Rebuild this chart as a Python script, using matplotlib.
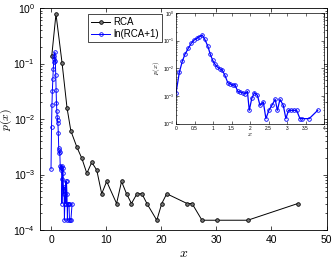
import matplotlib
matplotlib.use("Agg")
import matplotlib.pyplot as plt
import numpy as np

# RCA distribution (black)
rca_x = [0.13, 0.9, 2.0, 2.9, 3.6, 4.7, 5.6, 6.5, 7.4, 8.3, 9.2, 10.1, 11.9, 12.8,
         13.7, 14.6, 15.6, 16.5, 17.4, 19.2, 20.1, 21.0, 24.7, 25.6, 27.4, 30.1,
         35.7, 44.8]
rca_p = [0.136, 0.78, 0.103, 0.016, 6.1e-3, 3.1e-3, 1.95e-3, 1.05e-3, 1.66e-3,
         1.2e-3, 4.5e-4, 7.5e-4, 3e-4, 7.5e-4, 4.5e-4, 3e-4, 4.5e-4, 4.5e-4, 3e-4,
         1.5e-4, 3e-4, 4.5e-4, 3e-4, 3e-4, 1.5e-4, 1.5e-4, 1.5e-4, 3e-4]

# ln(RCA+1) distribution (blue)
ln_x = [0.00, 0.09, 0.17, 0.24, 0.33, 0.41, 0.49, 0.56, 0.63, 0.71, 0.78, 0.86,
        0.92, 0.99, 1.05, 1.12, 1.19, 1.25, 1.32, 1.40, 1.46, 1.53, 1.59, 1.67,
        1.73, 1.80, 1.86, 1.93, 1.98, 2.05, 2.12, 2.20, 2.27, 2.36, 2.43, 2.51,
        2.59, 2.68, 2.74, 2.81, 2.90, 2.97, 3.04, 3.11, 3.19, 3.26, 3.35, 3.41,
        3.60, 3.83]
ln_p = [1.26e-3, 7.1e-3, 0.0178, 0.0316, 0.052, 0.079, 0.105, 0.12, 0.138, 0.158,
        0.11, 0.063, 0.034, 0.0195, 0.0141, 0.011, 0.0095, 0.0085, 0.0056, 0.003,
        0.00275, 0.0024, 0.00257, 0.00145, 0.00138, 0.00132, 0.0012, 0.00145,
        3e-4, 8.3e-4, 1.3e-3, 1.05e-3, 4.5e-4, 6e-4, 1.5e-4, 3e-4, 4.5e-4, 7.5e-4,
        3e-4, 7.5e-4, 4.5e-4, 1.5e-4, 3e-4, 3e-4, 3e-4, 3e-4, 1.5e-4, 1.5e-4,
        1.5e-4, 3e-4]

main_xticks = [0, 10, 20, 30, 40, 50]
inset_xticks = [0, 0.5, 1, 1.5, 2, 2.5, 3, 3.5, 4]
yticks = [1e-4, 1e-3, 1e-2, 1e-1, 1e0]

plt.rcParams['font.family'] = ['Liberation Sans', 'DejaVu Sans']
plt.rcParams['mathtext.fontset'] = 'cm'

def dec_label(v):
    e = int(round(np.log10(v)))
    return r'$\mathregular{10^{%d}}$' % e

fig = plt.figure(figsize=(3.32, 2.59), dpi=100)
ax = fig.add_axes([40/332, 29/259, 286.5/332, 222/259])

ax.plot(rca_x, rca_p, '-o', color='black', lw=0.7, ms=2.6, mfc='#777777',
        mec='black', mew=0.6, label='RCA')
ax.plot(ln_x, ln_p, '-o', color='blue', lw=0.7, ms=2.6, mfc='none',
        mec='blue', mew=0.6, label='ln(RCA+1)')
ax.set_yscale('log')
ax.set_xlim(-2, 50)
ax.set_ylim(1e-4, 1)
ax.set_xticks(main_xticks)
ax.set_xticklabels([str(t) for t in main_xticks])
ax.set_yticks(yticks)
ax.set_yticklabels([dec_label(v) for v in yticks])
ax.tick_params(which='both', direction='in', top=True, right=True, labelsize=7.5,
               width=0.5)
ax.tick_params(which='major', length=3)
ax.tick_params(which='minor', length=1.6)
ax.xaxis.set_minor_locator(matplotlib.ticker.NullLocator())
for s in ax.spines.values():
    s.set_linewidth(0.6)
ax.set_xlabel(r'$x$', fontsize=10, labelpad=1)
ax.set_ylabel(r'$p(x)$', fontsize=8.5)
ax.yaxis.set_label_coords(-0.091, 0.5)

leg = ax.legend(loc='upper left', bbox_to_anchor=(0.168, 0.973), borderaxespad=0,
                fontsize=7, frameon=True, fancybox=False, framealpha=1,
                edgecolor='black', handlelength=2.0, handletextpad=0.3,
                borderpad=0.3, labelspacing=0.25)
leg.get_frame().set_linewidth(0.5)

# inset
ins = fig.add_axes([176/332, (259-123.5)/259, 148/332, 110.5/259])
ins.plot(ln_x, ln_p, '-o', color='blue', lw=0.9, ms=2.6, mfc='none', mec='blue',
         mew=0.6)
ins.set_yscale('log')
ins.set_xlim(0, 4)
ins.set_ylim(1e-4, 1)
ins.set_xticks(inset_xticks)
ins.set_xticklabels(['0', '0.5', '1', '1.5', '2', '2.5', '3', '3.5', '4'])
ins.set_yticks(yticks)
ins.set_yticklabels([dec_label(v) for v in yticks])
ins.tick_params(which='both', direction='in', top=True, right=True, labelsize=3.5,
                width=0.4, pad=1.5)
ins.tick_params(which='major', length=2)
ins.tick_params(which='minor', length=1)
ins.xaxis.set_minor_locator(matplotlib.ticker.NullLocator())
for s in ins.spines.values():
    s.set_linewidth(0.5)
ins.set_xlabel(r'$x$', fontsize=5, labelpad=0.5)
ins.set_ylabel(r'$p(x)$', fontsize=5, labelpad=0.5)

fig.savefig('out.png', dpi=100)
